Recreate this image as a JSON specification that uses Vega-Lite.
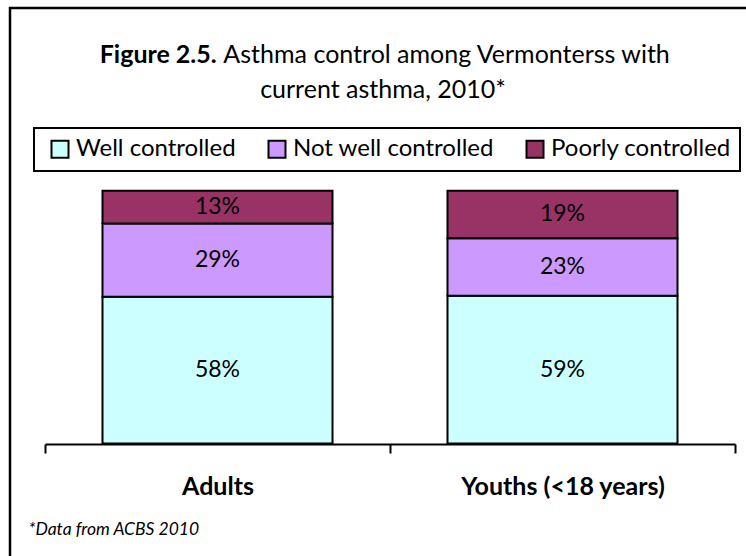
{
  "$schema": "https://vega.github.io/schema/vega-lite/v6.json",
  "autosize": {"type": "none"},
  "width": 746,
  "height": 556,
  "padding": {"left": 10, "top": 8, "right": -10, "bottom": -8},
  "background": "white",
  "config": {
    "view": {"stroke": "black", "strokeWidth": 2.5},
    "font": "Lato",
    "legend": {"strokeWidth": 2}
  },
  "title": {
    "text": "Figure 2.5.\u00a0\u00a0\u00a0\u00a0\u00a0\u00a0\u00a0\u00a0\u00a0\u00a0\u00a0\u00a0\u00a0\u00a0\u00a0\u00a0\u00a0\u00a0\u00a0\u00a0\u00a0\u00a0\u00a0\u00a0\u00a0\u00a0\u00a0\u00a0\u00a0\u00a0\u00a0\u00a0\u00a0\u00a0\u00a0\u00a0\u00a0\u00a0\u00a0\u00a0\u00a0\u00a0\u00a0\u00a0\u00a0\u00a0\u00a0\u00a0\u00a0\u00a0\u00a0\u00a0\u00a0\u00a0\u00a0\u00a0\u00a0\u00a0\u00a0\u00a0\u00a0\u00a0\u00a0\u00a0\u00a0\u00a0\u00a0\u00a0\u00a0\u00a0\u00a0\u00a0\u00a0\u00a0\u200b",
    "subtitle": [
      "\u200b\u00a0\u00a0\u00a0\u00a0\u00a0\u00a0\u00a0\u00a0\u00a0\u00a0\u00a0\u00a0\u00a0\u00a0\u00a0\u00a0\u00a0\u00a0\u00a0\u00a0Asthma control among Vermonterss with",
      "current asthma, 2010*"
    ],
    "anchor": "middle",
    "frame": "group",
    "font": "Lato",
    "fontSize": 25,
    "fontWeight": "bold",
    "color": "black",
    "subtitleFont": "Lato",
    "subtitleFontSize": 25,
    "subtitleFontWeight": "normal",
    "subtitleColor": "black",
    "subtitlePadding": -25,
    "subtitleLineHeight": 35,
    "offset": -95
  },
  "data": {
    "values": [
      {"group": "Adults", "control": "Well controlled", "severity": 1, "share": 0.58},
      {"group": "Adults", "control": "Not well controlled", "severity": 2, "share": 0.29},
      {"group": "Adults", "control": "Poorly controlled", "severity": 3, "share": 0.13},
      {"group": "Youths (<18 years)", "control": "Well controlled", "severity": 1, "share": 0.59},
      {"group": "Youths (<18 years)", "control": "Not well controlled", "severity": 2, "share": 0.23},
      {"group": "Youths (<18 years)", "control": "Poorly controlled", "severity": 3, "share": 0.19}
    ]
  },
  "encoding": {
    "x": {
      "field": "group",
      "type": "nominal",
      "sort": null,
      "scale": {"range": [35, 725], "paddingInner": 0, "paddingOuter": 0},
      "axis": {
        "title": "*Data from ACBS 2010",
        "labelAngle": 0,
        "labelFont": "Lato",
        "labelFontWeight": "bold",
        "labelFontSize": 25,
        "labelColor": "black",
        "labelPadding": 21,
        "labelLimit": 400,
        "tickBand": "extent",
        "tickSize": 9,
        "tickWidth": 2,
        "tickColor": "black",
        "domainColor": "black",
        "domainWidth": 2,
        "grid": false,
        "offset": -120,
        "titleFont": "Lato",
        "titleFontStyle": "italic",
        "titleFontWeight": "normal",
        "titleFontSize": 17.5,
        "titleColor": "black",
        "titleX": 18,
        "titleY": 90,
        "titleAlign": "left",
        "titleBaseline": "alphabetic",
        "titleAnchor": "start"
      }
    },
    "y": {
      "field": "share",
      "type": "quantitative",
      "stack": "normalize",
      "scale": {"domain": [-0.4767, 1.7227], "nice": false, "zero": false},
      "axis": null
    },
    "order": {"field": "severity", "type": "ordinal", "sort": "ascending"}
  },
  "layer": [
    {
      "mark": {"type": "bar", "width": {"band": 0.6667}, "stroke": "black", "strokeWidth": 2},
      "encoding": {
        "color": {
          "field": "control",
          "type": "nominal",
          "sort": ["Well controlled", "Not well controlled", "Poorly controlled"],
          "scale": {
            "domain": ["Well controlled", "Not well controlled", "Poorly controlled"],
            "range": ["#CCFFFF", "#CC99FF", "#993366"]
          },
          "legend": {
            "orient": "none",
            "legendX": 24,
            "legendY": 120,
            "direction": "horizontal",
            "title": "\u200b\u00a0\u200b",
            "titleOrient": "left",
            "titleFontSize": 10,
            "titlePadding": 2,
            "symbolType": "square",
            "symbolSize": 289,
            "symbolStrokeColor": "black",
            "symbolStrokeWidth": 2,
            "symbolOpacity": 1,
            "labelFont": "Lato",
            "labelFontSize": 24,
            "labelColor": "black",
            "labelOffset": 4,
            "labelLimit": 400,
            "columnPadding": 28,
            "padding": 9,
            "strokeColor": "black",
            "fillColor": "white"
          }
        }
      }
    },
    {
      "mark": {"type": "text", "font": "Lato", "fontSize": 23, "color": "black", "baseline": "middle"},
      "encoding": {
        "detail": {"field": "control", "type": "nominal"},
        "y": {
          "field": "share",
          "type": "quantitative",
          "stack": "normalize",
          "bandPosition": 0.5,
          "scale": {"domain": [-0.4767, 1.7227], "nice": false, "zero": false},
          "axis": null
        },
        "text": {"field": "share", "type": "quantitative", "format": ".0%"}
      }
    }
  ]
}
